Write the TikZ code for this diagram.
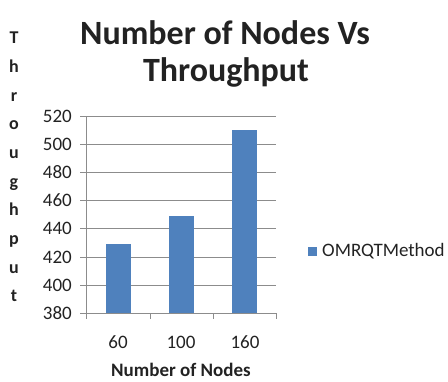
\documentclass[tikz,border=0pt]{standalone}
\usepackage{fontspec}
\setmainfont{Carlito}
\definecolor{barblue}{HTML}{4F81BD}
\definecolor{gridgray}{HTML}{8C8C8C}
\definecolor{txt}{HTML}{222222}
\begin{document}
\begin{tikzpicture}[x=1pt,y=-1pt,
  grid/.style={draw=gridgray,line width=1pt},
  bar/.style={fill=barblue,draw=none},
  ticklab/.style={font=\fontsize{19}{19}\selectfont,text=txt,inner sep=0pt},
  ylet/.style={font=\bfseries\fontsize{18}{18}\selectfont,text=txt,inner sep=0pt},
  ttl/.style={font=\bfseries\fontsize{34}{34}\selectfont,text=txt,inner sep=0pt}]
\useasboundingbox (0,0) rectangle (448,381);
% gridlines
\foreach \v/\yy in {520/116,500/144,480/172,460/200.5,440/228.5,420/257,400/285}{
  \draw[grid] (86,\yy) -- (276,\yy);
  \draw[grid] (80,\yy) -- (86,\yy);
  \node[ticklab,anchor=east] (y\v) at (72,\yy) {\v};
}
\node[ticklab,anchor=east] (y380) at (72,313) {380};
% bars
\fill[bar] (106,244) rectangle (131,313);
\fill[bar] (169,216) rectangle (194,313);
\fill[bar] (232,130) rectangle (257,313);
% axes
\draw[grid] (86,116) -- (86,319);
\draw[grid] (80,313) -- (276,313);
\foreach \xx in {150,213,276}{\draw[grid] (\xx,313) -- (\xx,319);}
% x labels
\node[ticklab] (x60) at (118,342) {60};
\node[ticklab] (x100) at (181,342) {100};
\node[ticklab] (x160) at (245,342) {160};
\node[font=\bfseries\fontsize{19}{19}\selectfont,text=txt,inner sep=0pt] (xt) at (181,370) {Number of Nodes};
% y title letters
\foreach \l [count=\i from 0] in {T,h,r,o,u,g,h,p,u,t}{
  \node[ylet] (yl\i) at (14,{40+28.7*\i}) {\strut\l};
}
% title
\node[ttl] (t1) at (225,33) {Number of Nodes Vs};
\node[ttl] (t2) at (226,72) {Throughput};
% legend
\fill[bar] (308,247) rectangle (317,256);
\node[font=\fontsize{19}{19}\selectfont,text=txt,inner sep=0pt,anchor=west] (leg) at (322,251.5) {OMRQTMethod};
\end{tikzpicture}
\end{document}
